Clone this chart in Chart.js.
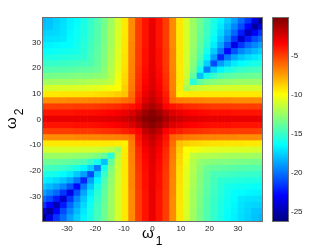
<!DOCTYPE html>
<html>
<head>
<meta charset="utf-8">
<script src="https://cdn.jsdelivr.net/npm/chart.js@4.4.1/dist/chart.umd.min.js"></script>
<style>
  html, body { margin: 0; padding: 0; background: #fff; }
  #wrap { position: relative; width: 332px; height: 250px; overflow: hidden; }
  #wrap canvas { position: absolute; left: 0; top: 0; }
  .lab { position: absolute; font-family: 'Liberation Sans', Arial, sans-serif; font-size: 15px; line-height: 15px; color: #000; white-space: nowrap; }
  .lab span { font-size: 12px; position: relative; top: 7px; margin-left: 2px; }
</style>
</head>
<body>
<div id="wrap">
  <canvas id="heat" width="332" height="250"></canvas>
  <canvas id="cbar" width="332" height="250"></canvas>
  <div class="lab" style="left:142px; top:225px;">ω<span>1</span></div>
  <div class="lab" style="left:3px; top:129px; transform-origin:0 0; transform:rotate(-90deg);">ω<span>2</span></div>
</div>
<script>
// cell centres (omega1 left->right, omega2 top->bottom)
var omega1 = [-38.4, -36, -33.6, -31.2, -28.8, -26.4, -24, -21.6, -19.2, -16.8, -14.4, -12, -9.6, -7.2, -4.8, -2.4, 0,
              2.4, 4.8, 7.2, 9.6, 12, 14.4, 16.8, 19.2, 21.6, 24, 26.4, 28.8, 31.2, 33.6, 36, 38.4];
var omega2 = [38.4, 36, 33.6, 31.2, 28.8, 26.4, 24, 21.6, 19.2, 16.8, 14.4, 12, 9.6, 7.2, 4.8, 2.4, 0,
              -2.4, -4.8, -7.2, -9.6, -12, -14.4, -16.8, -19.2, -21.6, -24, -26.4, -28.8, -31.2, -33.6, -36, -38.4];
var xTicks = [-30, -20, -10, 0, 10, 20, 30];
var yTicks = [-30, -20, -10, 0, 10, 20, 30];
var cbarTicks = [-25, -20, -15, -10, -5];
var cRange = [-26.2, -0.2];

// values, one row per omega2
var z = [
[-18.2,-18.0,-17.6,-17.3,-16.8,-16.4,-15.8,-15.2,-14.4,-13.5,-12.4,-11.0,-9.4,-7.0,-5.0,-3.9,-3.0,-3.9,-5.0,-7.0,-9.4,-11.0,-12.5,-13.7,-14.7,-15.8,-16.7,-17.7,-18.8,-20.2,-21.6,-23.7,-26.0],
[-18.0,-17.9,-17.5,-17.2,-16.7,-16.3,-15.7,-15.1,-14.4,-13.5,-12.4,-11.0,-9.4,-7.0,-5.0,-3.9,-2.9,-3.9,-5.0,-7.0,-9.4,-11.0,-12.5,-13.7,-14.8,-15.9,-17.0,-18.2,-19.5,-21.0,-23.0,-25.4,-23.7],
[-17.6,-17.5,-17.4,-17.1,-16.6,-16.2,-15.7,-15.1,-14.3,-13.4,-12.3,-10.9,-9.4,-7.0,-5.0,-3.9,-2.9,-3.9,-5.0,-7.0,-9.4,-11.0,-12.5,-13.8,-14.9,-16.1,-17.4,-18.8,-20.3,-22.3,-24.8,-23.0,-21.6],
[-17.3,-17.2,-17.1,-17.0,-16.5,-16.1,-15.6,-15.0,-14.3,-13.4,-12.3,-10.9,-9.3,-7.0,-5.0,-3.9,-2.9,-3.9,-5.0,-7.0,-9.4,-11.0,-12.5,-13.9,-15.1,-16.5,-17.9,-19.5,-21.6,-24.2,-22.3,-21.0,-20.2],
[-16.8,-16.7,-16.6,-16.5,-16.4,-16.0,-15.5,-14.9,-14.2,-13.3,-12.3,-10.9,-9.3,-6.9,-5.0,-3.9,-2.9,-3.9,-5.0,-7.0,-9.4,-11.0,-12.6,-14.0,-15.4,-16.9,-18.7,-20.8,-23.5,-21.6,-20.3,-19.5,-18.8],
[-16.4,-16.3,-16.2,-16.1,-16.0,-15.9,-15.4,-14.8,-14.1,-13.2,-12.2,-10.8,-9.3,-6.9,-4.9,-3.8,-2.9,-3.8,-4.9,-6.9,-9.4,-11.0,-12.7,-14.2,-15.9,-17.8,-19.9,-22.8,-20.8,-19.5,-18.8,-18.2,-17.7],
[-15.8,-15.7,-15.7,-15.6,-15.5,-15.4,-15.3,-14.7,-14.0,-13.2,-12.1,-10.8,-9.2,-6.9,-4.9,-3.8,-2.9,-3.8,-4.9,-6.9,-9.4,-11.1,-12.8,-14.5,-16.6,-18.9,-22.0,-19.9,-18.7,-17.9,-17.4,-17.0,-16.7],
[-15.2,-15.1,-15.1,-15.0,-14.9,-14.8,-14.7,-14.6,-13.9,-13.1,-12.0,-10.7,-9.2,-6.8,-4.9,-3.8,-2.8,-3.8,-4.9,-6.9,-9.4,-11.1,-13.0,-15.1,-17.6,-21.0,-18.9,-17.8,-16.9,-16.5,-16.1,-15.9,-15.8],
[-14.4,-14.4,-14.3,-14.3,-14.2,-14.1,-14.0,-13.9,-13.7,-12.9,-11.9,-10.6,-9.1,-6.8,-4.8,-3.7,-2.8,-3.7,-4.8,-6.9,-9.4,-11.2,-13.3,-16.0,-19.8,-17.6,-16.6,-15.9,-15.4,-15.1,-14.9,-14.8,-14.7],
[-13.5,-13.5,-13.4,-13.4,-13.3,-13.2,-13.2,-13.1,-12.9,-12.7,-11.8,-10.4,-9.0,-6.7,-4.7,-3.6,-2.7,-3.6,-4.7,-6.8,-9.4,-11.3,-14.0,-18.0,-16.0,-15.1,-14.5,-14.2,-14.0,-13.9,-13.8,-13.7,-13.7],
[-12.4,-12.4,-12.3,-12.3,-12.3,-12.2,-12.1,-12.0,-11.9,-11.8,-11.6,-10.2,-8.9,-6.6,-4.6,-3.5,-2.6,-3.5,-4.6,-6.8,-9.4,-11.6,-15.5,-14.0,-13.3,-13.0,-12.8,-12.7,-12.6,-12.5,-12.5,-12.5,-12.5],
[-11.0,-11.0,-10.9,-10.9,-10.9,-10.8,-10.8,-10.7,-10.6,-10.4,-10.2,-10.0,-8.7,-6.5,-4.5,-3.3,-2.5,-3.3,-4.5,-6.7,-9.5,-12.3,-11.6,-11.3,-11.2,-11.1,-11.1,-11.0,-11.0,-11.0,-11.0,-11.0,-11.0],
[-9.4,-9.4,-9.4,-9.3,-9.3,-9.3,-9.2,-9.2,-9.1,-9.0,-8.9,-8.7,-8.4,-6.2,-4.2,-3.0,-2.2,-3.0,-4.2,-6.6,-9.6,-9.5,-9.4,-9.4,-9.4,-9.4,-9.4,-9.4,-9.4,-9.4,-9.4,-9.4,-9.4],
[-7.0,-7.0,-7.0,-7.0,-6.9,-6.9,-6.9,-6.8,-6.8,-6.7,-6.6,-6.5,-6.2,-5.9,-3.9,-2.6,-1.9,-2.6,-3.9,-6.3,-6.6,-6.7,-6.8,-6.8,-6.9,-6.9,-6.9,-6.9,-7.0,-7.0,-7.0,-7.0,-7.0],
[-5.0,-5.0,-5.0,-5.0,-5.0,-4.9,-4.9,-4.9,-4.8,-4.7,-4.6,-4.5,-4.2,-3.9,-3.4,-1.9,-1.3,-1.9,-3.5,-3.9,-4.2,-4.5,-4.6,-4.7,-4.8,-4.9,-4.9,-4.9,-5.0,-5.0,-5.0,-5.0,-5.0],
[-3.9,-3.9,-3.9,-3.9,-3.9,-3.8,-3.8,-3.8,-3.7,-3.6,-3.5,-3.3,-3.0,-2.6,-1.9,-1.0,-0.5,-1.0,-1.9,-2.6,-3.0,-3.3,-3.5,-3.6,-3.7,-3.8,-3.8,-3.8,-3.9,-3.9,-3.9,-3.9,-3.9],
[-3.0,-2.9,-2.9,-2.9,-2.9,-2.9,-2.9,-2.8,-2.8,-2.7,-2.6,-2.5,-2.2,-1.9,-1.3,-0.5,0.0,-0.5,-1.3,-1.9,-2.2,-2.5,-2.6,-2.7,-2.8,-2.8,-2.9,-2.9,-2.9,-2.9,-2.9,-2.9,-3.0],
[-3.9,-3.9,-3.9,-3.9,-3.9,-3.8,-3.8,-3.8,-3.7,-3.6,-3.5,-3.3,-3.0,-2.6,-1.9,-1.0,-0.5,-1.0,-1.9,-2.6,-3.0,-3.3,-3.5,-3.6,-3.7,-3.8,-3.8,-3.8,-3.9,-3.9,-3.9,-3.9,-3.9],
[-5.0,-5.0,-5.0,-5.0,-5.0,-4.9,-4.9,-4.9,-4.8,-4.7,-4.6,-4.5,-4.2,-3.9,-3.5,-1.9,-1.3,-1.9,-3.4,-3.9,-4.2,-4.5,-4.6,-4.7,-4.8,-4.9,-4.9,-4.9,-5.0,-5.0,-5.0,-5.0,-5.0],
[-7.0,-7.0,-7.0,-7.0,-7.0,-6.9,-6.9,-6.9,-6.9,-6.8,-6.8,-6.7,-6.6,-6.3,-3.9,-2.6,-1.9,-2.6,-3.9,-5.9,-6.2,-6.5,-6.6,-6.7,-6.8,-6.8,-6.9,-6.9,-6.9,-7.0,-7.0,-7.0,-7.0],
[-9.4,-9.4,-9.4,-9.4,-9.4,-9.4,-9.4,-9.4,-9.4,-9.4,-9.4,-9.5,-9.6,-6.6,-4.2,-3.0,-2.2,-3.0,-4.2,-6.2,-8.4,-8.7,-8.9,-9.0,-9.1,-9.2,-9.2,-9.3,-9.3,-9.3,-9.4,-9.4,-9.4],
[-11.0,-11.0,-11.0,-11.0,-11.0,-11.0,-11.1,-11.1,-11.2,-11.3,-11.6,-12.3,-9.5,-6.7,-4.5,-3.3,-2.5,-3.3,-4.5,-6.5,-8.7,-10.0,-10.2,-10.4,-10.6,-10.7,-10.8,-10.8,-10.9,-10.9,-10.9,-11.0,-11.0],
[-12.5,-12.5,-12.5,-12.5,-12.6,-12.7,-12.8,-13.0,-13.3,-14.0,-15.5,-11.6,-9.4,-6.8,-4.6,-3.5,-2.6,-3.5,-4.6,-6.6,-8.9,-10.2,-11.6,-11.8,-11.9,-12.0,-12.1,-12.2,-12.3,-12.3,-12.3,-12.4,-12.4],
[-13.7,-13.7,-13.8,-13.9,-14.0,-14.2,-14.5,-15.1,-16.0,-18.0,-14.0,-11.3,-9.4,-6.8,-4.7,-3.6,-2.7,-3.6,-4.7,-6.7,-9.0,-10.4,-11.8,-12.7,-12.9,-13.1,-13.2,-13.2,-13.3,-13.4,-13.4,-13.5,-13.5],
[-14.7,-14.8,-14.9,-15.1,-15.4,-15.9,-16.6,-17.6,-19.8,-16.0,-13.3,-11.2,-9.4,-6.9,-4.8,-3.7,-2.8,-3.7,-4.8,-6.8,-9.1,-10.6,-11.9,-12.9,-13.7,-13.9,-14.0,-14.1,-14.2,-14.3,-14.3,-14.4,-14.4],
[-15.8,-15.9,-16.1,-16.5,-16.9,-17.8,-18.9,-21.0,-17.6,-15.1,-13.0,-11.1,-9.4,-6.9,-4.9,-3.8,-2.8,-3.8,-4.9,-6.8,-9.2,-10.7,-12.0,-13.1,-13.9,-14.6,-14.7,-14.8,-14.9,-15.0,-15.1,-15.1,-15.2],
[-16.7,-17.0,-17.4,-17.9,-18.7,-19.9,-22.0,-18.9,-16.6,-14.5,-12.8,-11.1,-9.4,-6.9,-4.9,-3.8,-2.9,-3.8,-4.9,-6.9,-9.2,-10.8,-12.1,-13.2,-14.0,-14.7,-15.3,-15.4,-15.5,-15.6,-15.7,-15.7,-15.8],
[-17.7,-18.2,-18.8,-19.5,-20.8,-22.8,-19.9,-17.8,-15.9,-14.2,-12.7,-11.0,-9.4,-6.9,-4.9,-3.8,-2.9,-3.8,-4.9,-6.9,-9.3,-10.8,-12.2,-13.2,-14.1,-14.8,-15.4,-15.9,-16.0,-16.1,-16.2,-16.3,-16.4],
[-18.8,-19.5,-20.3,-21.6,-23.5,-20.8,-18.7,-16.9,-15.4,-14.0,-12.6,-11.0,-9.4,-7.0,-5.0,-3.9,-2.9,-3.9,-5.0,-6.9,-9.3,-10.9,-12.3,-13.3,-14.2,-14.9,-15.5,-16.0,-16.4,-16.5,-16.6,-16.7,-16.8],
[-20.2,-21.0,-22.3,-24.2,-21.6,-19.5,-17.9,-16.5,-15.1,-13.9,-12.5,-11.0,-9.4,-7.0,-5.0,-3.9,-2.9,-3.9,-5.0,-7.0,-9.3,-10.9,-12.3,-13.4,-14.3,-15.0,-15.6,-16.1,-16.5,-17.0,-17.1,-17.2,-17.3],
[-21.6,-23.0,-24.8,-22.3,-20.3,-18.8,-17.4,-16.1,-14.9,-13.8,-12.5,-11.0,-9.4,-7.0,-5.0,-3.9,-2.9,-3.9,-5.0,-7.0,-9.4,-10.9,-12.3,-13.4,-14.3,-15.1,-15.7,-16.2,-16.6,-17.1,-17.4,-17.5,-17.6],
[-23.7,-25.4,-23.0,-21.0,-19.5,-18.2,-17.0,-15.9,-14.8,-13.7,-12.5,-11.0,-9.4,-7.0,-5.0,-3.9,-2.9,-3.9,-5.0,-7.0,-9.4,-11.0,-12.4,-13.5,-14.4,-15.1,-15.7,-16.3,-16.7,-17.2,-17.5,-17.9,-18.0],
[-26.0,-23.7,-21.6,-20.2,-18.8,-17.7,-16.7,-15.8,-14.7,-13.7,-12.5,-11.0,-9.4,-7.0,-5.0,-3.9,-3.0,-3.9,-5.0,-7.0,-9.4,-11.0,-12.4,-13.5,-14.4,-15.2,-15.8,-16.4,-16.8,-17.3,-17.6,-18.0,-18.2]
];

Chart.defaults.font.family = "'Liberation Sans', Arial, sans-serif";
Chart.defaults.font.size = 8;
Chart.defaults.color = '#1a1a1a';

function clamp01(v) { return Math.min(1, Math.max(0, v)); }
// matlab jet
function jet(t) {
  t = clamp01(t);
  var r = clamp01(1.5 - Math.abs(4 * t - 3));
  var g = clamp01(1.5 - Math.abs(4 * t - 2));
  var b = clamp01(1.5 - Math.abs(4 * t - 1));
  return 'rgb(' + Math.round(r * 255) + ',' + Math.round(g * 255) + ',' + Math.round(b * 255) + ')';
}
function colorOf(v) { return jet((v - cRange[0]) / (cRange[1] - cRange[0])); }

var points = [];
for (var r = 0; r < omega2.length; r++) {
  for (var c = 0; c < omega1.length; c++) {
    points.push({ x: omega1[c], y: omega2[r], v: z[r][c] });
  }
}

var step = omega1[1] - omega1[0];
function cellRadius(ctx) {
  var xs = ctx.chart.scales.x, ys = ctx.chart.scales.y;
  if (!xs || !ys) return 3;
  var w = Math.abs(xs.getPixelForValue(step) - xs.getPixelForValue(0));
  var h = Math.abs(ys.getPixelForValue(step) - ys.getPixelForValue(0));
  return (Math.max(w, h) / 2 + 0.3) / Math.SQRT1_2;
}

var frame = {
  id: 'frame',
  afterDraw: function(chart) {
    var a = chart.chartArea, g = chart.ctx;
    g.save();
    g.strokeStyle = '#6f6f6f';
    g.lineWidth = 1;
    g.strokeRect(Math.round(a.left) - 0.5, Math.round(a.top) - 0.5,
                 Math.round(a.right - a.left) + 1, Math.round(a.bottom - a.top) + 1);
    g.restore();
  }
};

new Chart(document.getElementById('heat'), {
  type: 'scatter',
  data: {
    datasets: [{
      data: points,
      pointStyle: 'rect',
      pointRadius: cellRadius,
      pointHoverRadius: cellRadius,
      pointBorderWidth: 0,
      pointBackgroundColor: function(ctx) { return ctx.raw ? colorOf(ctx.raw.v) : '#000'; }
    }]
  },
  options: {
    responsive: false,
    animation: false,
    events: [],
    layout: { padding: { left: 0, top: 18, right: 70, bottom: 0 } },
    plugins: { legend: { display: false }, tooltip: { enabled: false } },
    scales: {
      x: {
        type: 'linear', min: -38.4, max: 38.4,
        grid: { display: false, drawTicks: false },
        border: { display: false },
        ticks: { padding: 3, maxRotation: 0 },
        afterBuildTicks: function(s) { s.ticks = xTicks.map(function(v) { return { value: v }; }); },
        afterFit: function(s) { s.height = 29; }
      },
      y: {
        type: 'linear', min: -39.6, max: 39.6,
        grid: { display: false, drawTicks: false },
        border: { display: false },
        ticks: { padding: 2 },
        afterBuildTicks: function(s) { s.ticks = yTicks.map(function(v) { return { value: v }; }); },
        afterFit: function(s) { s.width = 43; }
      }
    }
  },
  plugins: [frame]
});

function cbarFill(ctx) {
  var a = ctx.chart.chartArea;
  if (!a) return 'rgba(0,0,0,0)';
  var g = ctx.chart.ctx.createLinearGradient(0, a.bottom, 0, a.top);
  [0, 0.125, 0.375, 0.625, 0.875, 1].forEach(function(t) { g.addColorStop(t, jet(t)); });
  return g;
}

new Chart(document.getElementById('cbar'), {
  type: 'bar',
  data: {
    labels: ['colorbar'],
    datasets: [{ data: [cRange], backgroundColor: cbarFill, borderWidth: 0, barPercentage: 1, categoryPercentage: 1 }]
  },
  options: {
    responsive: false,
    animation: false,
    events: [],
    layout: { padding: { left: 273, top: 18, right: 0, bottom: 29 } },
    plugins: { legend: { display: false }, tooltip: { enabled: false } },
    scales: {
      x: { display: false },
      y: {
        position: 'right', min: cRange[0], max: cRange[1],
        grid: { display: false, drawTicks: false },
        border: { display: false },
        ticks: { padding: 3 },
        afterBuildTicks: function(s) { s.ticks = cbarTicks.map(function(v) { return { value: v }; }); },
        afterFit: function(s) { s.width = 44; }
      }
    }
  },
  plugins: [frame]
});
</script>
</body>
</html>
